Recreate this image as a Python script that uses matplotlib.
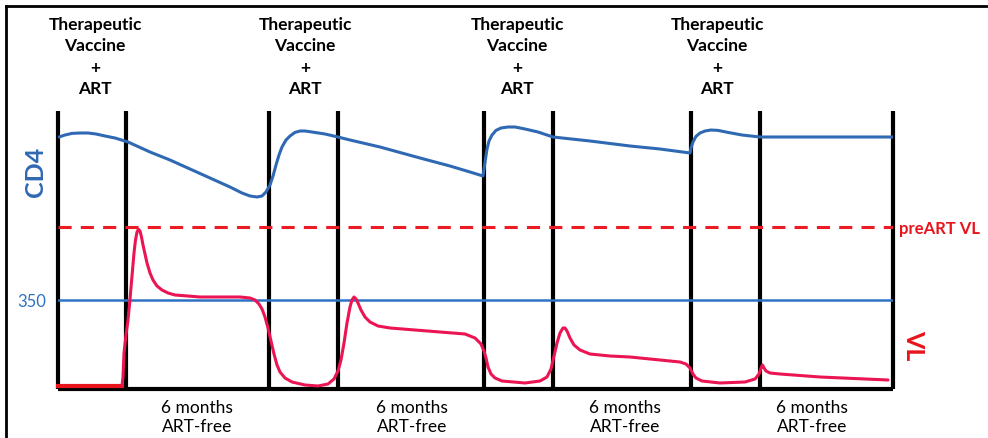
import matplotlib
matplotlib.use("Agg")
import matplotlib.pyplot as plt
from matplotlib.lines import Line2D

plt.rcParams['font.family'] = ['Lato', 'DejaVu Sans']

# phase boundaries (time, arbitrary weeks) - ART / ART-free alternating
bounds = [0, 13.6, 42.2, 56, 85.2, 99, 126.6, 140.4, 167]
vaccine_x = [7.4, 49.4, 91.8, 131.8]
free_x = [27.8, 70.8, 113.4, 150.8]

# CD4 count (schematic level)
cd4_t = [0.2, 1.4, 2.8, 4.4, 6, 7.6, 9.4, 11.4, 14, 18.4, 22.4, 26.4, 30.4, 34.4, 36.8,
         38.4, 39.8, 40.8, 41.6, 42.4, 43, 43.6, 44.2, 44.8, 45.6, 46.4, 47.4, 48.4, 49.4,
         50.8, 53.4, 56, 58.4, 64.4, 72.4, 78.4, 82.4, 85, 85.2, 85.5, 85.8, 86.2, 86.8,
         87.6, 88.6, 90, 91.4, 93.4, 96, 99, 106.4, 114.4, 120.4, 126.4, 126.6, 127,
         127.6, 128.4, 129.4, 130.6, 132, 134, 136.8, 140.4, 148.4, 158.4, 167]
cd4_v = [126, 127, 127.8, 128, 128, 127.5, 126.5, 125.5, 123.5, 118.5, 114.5, 110, 105.5,
         101, 98, 96.5, 96, 96.5, 98.5, 102, 106.5, 112, 117, 121, 124.5, 126.5, 128.3,
         129, 129, 128.5, 127.5, 126, 124.5, 121, 115.5, 111.5, 108.5, 106.5, 110, 115,
         120, 124, 127, 129.3, 130.5, 131, 131, 130, 128.5, 126, 124, 121.5, 120, 118,
         120.5, 123.5, 126.3, 128, 129, 129.5, 129.3, 128.3, 127, 126, 126, 126, 126]

# viral load (schematic level)
vl_t = [12.8, 13, 13.2, 13.6, 14, 14.4, 14.8, 15.2, 15.5, 15.8, 16.1, 16.4, 16.7, 17,
        17.4, 17.8, 18.4, 19, 19.8, 20.8, 22, 23.4, 28.4, 34.4, 36.4, 38.4, 39.4, 40.2,
        40.8, 41.4, 42, 42.6, 43.2, 43.8, 44.4, 45.4, 46.8, 49.4, 52, 54, 55.2, 56, 56.6,
        57.2, 57.8, 58.4, 58.8, 59.2, 59.6, 60, 60.6, 61.4, 62.4, 64, 66.4, 76.4, 81.4,
        83.4, 84.6, 85.2, 85.6, 86, 86.6, 87.4, 88.8, 93.4, 96.4, 97.8, 98.6, 99.2, 99.8,
        100.4, 101, 101.4, 101.8, 102.4, 103.2, 104.4, 106.4, 110.4, 114.4, 120.4, 124.4,
        125.6, 126.4, 127, 127.6, 128.8, 132.4, 137.4, 139.4, 140.2, 140.6, 140.9, 141.2,
        141.6, 142.4, 144.4, 152.4, 166]
vl_v = [1.5, 6, 18, 27, 34.5, 45, 56.5, 68, 74.5, 78.5, 79.8, 79, 76, 72, 67.5, 63, 58,
        54.5, 51.5, 49.5, 48, 47, 46, 46, 46, 45.5, 44.5, 42.5, 40, 36, 30.5, 24, 17.5, 12,
        8.5, 5.5, 3.5, 2, 1.5, 2.5, 5, 9, 14.5, 23, 33, 41, 44.5, 46, 45, 43, 39.5, 36,
        33.5, 31.5, 30.5, 28.5, 27.5, 25.5, 22.5, 19, 15.5, 11, 7.5, 5.5, 4, 3, 4, 6, 10,
        16.5, 23, 28, 30.5, 30.5, 29, 25.5, 22, 19.5, 17.5, 16.5, 16, 14.5, 13.5, 12.5,
        10.5, 7.5, 5.5, 4, 3, 3.5, 5, 7.5, 10.5, 12, 10.5, 9, 8, 7.5, 6, 4.5]

# suppressed VL before first interruption
base_t = [0, 12.8]
base_v = [1.5, 1.5]

pre_art_vl = 81
cd4_350 = 44.5

fig = plt.figure(figsize=(9.88, 4.38), dpi=100)
ax = fig.add_axes([58 / 988, 49 / 438, 835 / 988, 278 / 438])
ax.set_xlim(0, 167)
ax.set_ylim(0, 139)
ax.axis('off')

ax.vlines(bounds, 0, 139, color='black', lw=3, clip_on=False, zorder=2)
ax.hlines(0, 0, 167, color='black', lw=3, clip_on=False, zorder=2)

ax.axhline(cd4_350, color='#2E72C4', lw=1.8, zorder=3)
ax.axhline(pre_art_vl, color='#EC1C24', lw=2.2, dashes=(4.3, 3.0), zorder=3)

ax.plot(cd4_t, cd4_v, color='#2F69B3', lw=2.2, solid_joinstyle='round',
        solid_capstyle='round', zorder=4)
ax.plot(base_t, base_v, color='#E8141C', lw=3, clip_on=False, zorder=4)
ax.plot(vl_t, vl_v, color='#EA1552', lw=2.2, solid_joinstyle='round',
        solid_capstyle='round', clip_on=False, zorder=4)

for x in vaccine_x:
    ax.text(x, 166, 'Therapeutic\nVaccine\n+\nART', ha='center', va='center',
            fontsize=12.5, fontweight='bold', linespacing=1.4, clip_on=False)
for x in free_x:
    ax.text(x, -14.3, '6 months\nART-free', ha='center', va='center',
            fontsize=12.5, linespacing=1.25, clip_on=False)

ax.text(-4.6, 108.5, 'CD4', color='#2F69B3', fontsize=18, fontweight='bold',
        rotation=90, ha='center', va='center', clip_on=False)
ax.text(-5.2, 43.5, '350', color='#2E72C4', fontsize=12, ha='center',
        va='center', clip_on=False)
ax.text(168.2, 80, 'preART VL', color='#E8141C', fontsize=12, fontweight='bold',
        ha='left', va='center', clip_on=False)
ax.text(171.2, 22, 'VL', color='#E8141C', fontsize=18, fontweight='bold',
        rotation=270, ha='center', va='center', clip_on=False)

# picture frame (top and left edges visible)
fig.add_artist(Line2D([6 / 988, 1], [1 - 6 / 438, 1 - 6 / 438], color='black',
                      lw=2, transform=fig.transFigure))
fig.add_artist(Line2D([6 / 988, 6 / 988], [0, 1 - 6 / 438], color='black',
                      lw=2, transform=fig.transFigure))

fig.savefig('out.png', dpi=100)
